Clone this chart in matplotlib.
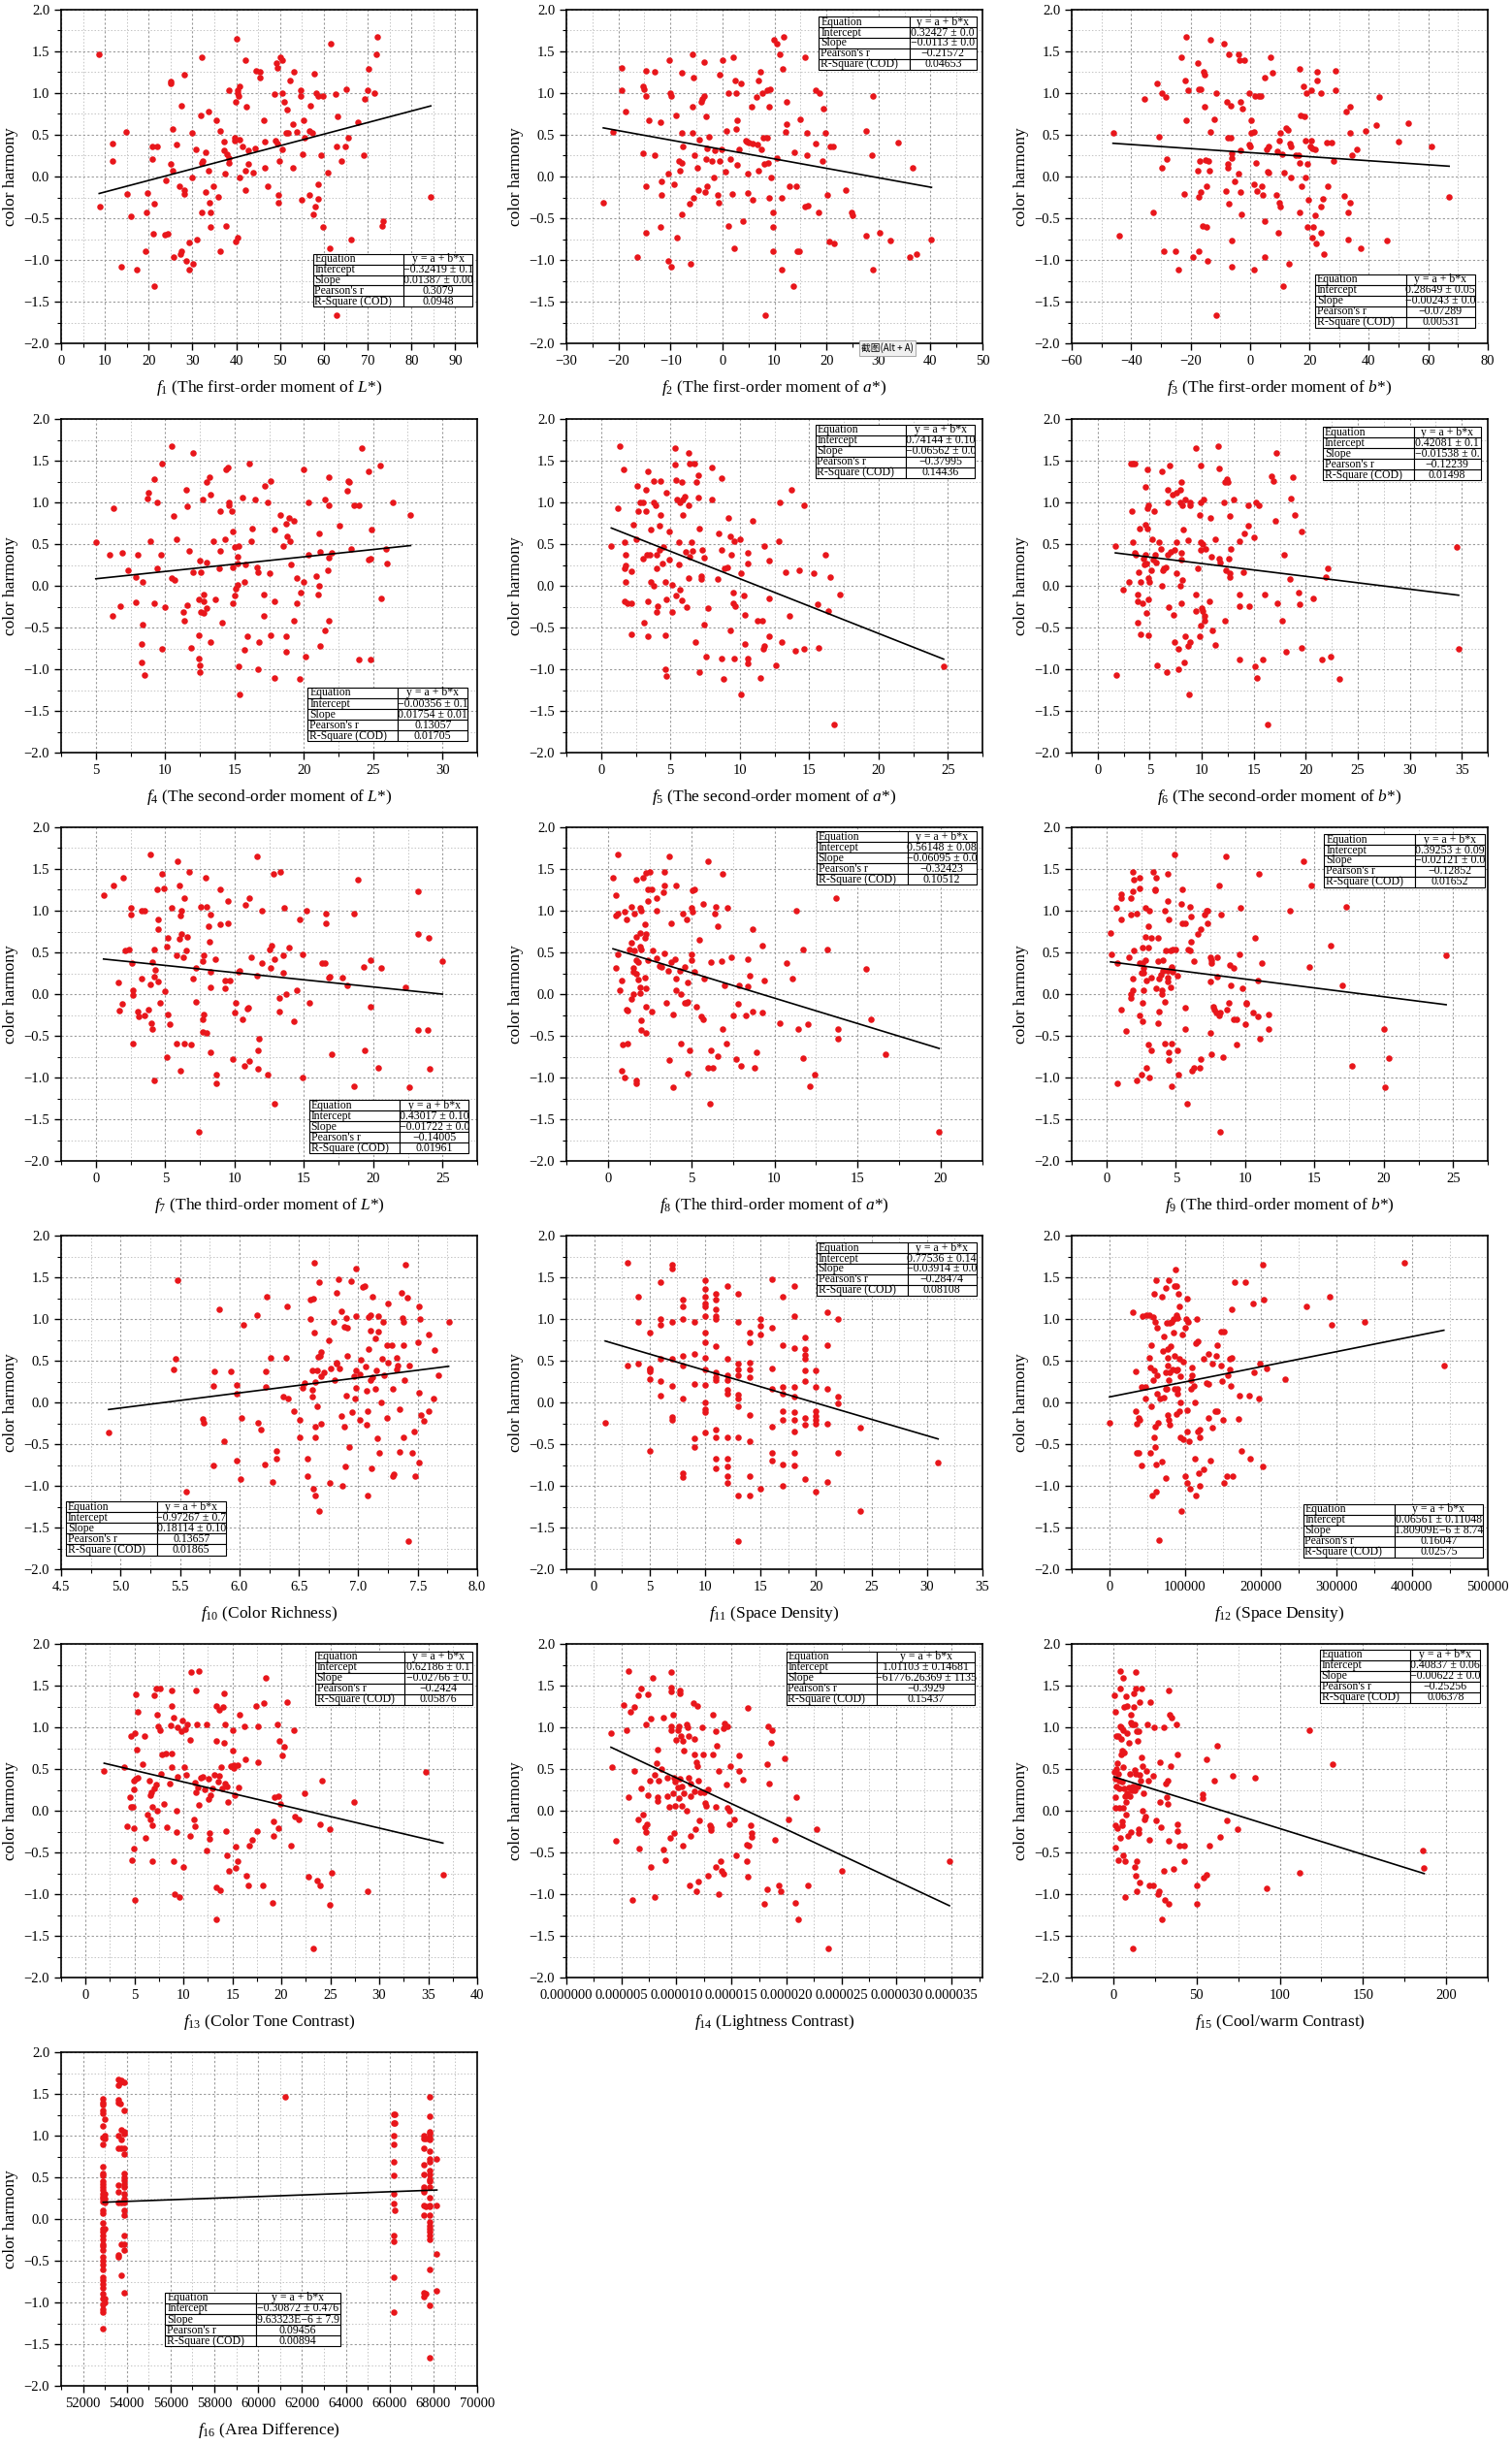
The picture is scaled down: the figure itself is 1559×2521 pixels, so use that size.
import matplotlib
matplotlib.use("Agg")
import matplotlib.pyplot as plt
import matplotlib.ticker as mticker
import numpy as np

plt.rcParams['font.family'] = ['Liberation Serif', 'DejaVu Serif']
plt.rcParams['mathtext.fontset'] = 'custom'
plt.rcParams['mathtext.rm'] = 'Liberation Serif'
plt.rcParams['mathtext.it'] = 'Liberation Serif:italic'

# ---- data: (x, color harmony) pairs for each feature ----
pts1 = np.array([8.7,1.46, 8.9,-0.36, 11.8,0.39, 11.8,0.19, 14.9,0.53, 15.0,-0.21, 16.0,-0.48, 13.7,-1.08, 17.3,-1.12, 19.4,-0.43, 19.7,-0.20, 19.2,-0.89, 20.9,0.36, 22.0,0.36, 20.9,0.21, 21.3,-0.33, 21.0,-0.69, 21.3,-1.31, 23.7,-0.70, 24.3,-0.69, 24.0,-0.05, 25.0,1.14, 25.1,1.12, 25.1,0.15, 25.4,0.57, 25.4,0.07, 25.6,-0.96, 26.3,0.38, 27.4,0.85, 27.1,-0.12, 28.2,1.22, 28.1,-0.16, 28.1,-0.21, 27.4,-0.89, 27.2,-0.93, 28.6,-1.01, 29.2,-0.79, 29.3,-1.12, 29.8,0.52, 29.9,-0.01, 30.1,-1.05, 30.8,0.33, 31.0,-0.75, 31.8,0.73, 32.1,1.43, 32.2,-0.43, 32.1,0.16, 32.4,0.19, 32.9,0.29, 33.1,-0.19, 33.7,0.78, 33.7,0.07, 33.9,-0.31, 34.0,-0.61, 34.2,-0.43, 34.8,-0.12, 35.4,0.68, 35.9,-0.24, 36.4,0.55, 36.4,-0.89, 37.2,0.42, 37.1,0.31, 37.4,0.04, 37.6,-0.59, 37.9,0.27, 38.2,0.16, 38.3,1.04, 38.2,0.22, 39.6,0.46, 39.7,0.43, 39.8,-0.78, 39.9,0.89, 40.0,1.65, 40.2,1.04, 40.4,1.00, 40.5,0.96, 40.4,-0.73, 40.7,1.08, 40.7,0.44, 40.7,-0.01, 41.5,0.36, 42.0,1.39, 42.1,0.07, 42.1,-0.16, 42.4,0.84, 42.7,0.31, 42.7,0.15, 43.9,0.05, 44.3,0.34, 44.4,1.27, 45.3,1.26, 45.3,1.19, 46.2,0.67, 46.4,0.10, 46.6,0.42, 47.2,-0.12, 48.8,0.99, 49.1,1.36, 49.3,1.30, 49.0,0.43, 49.3,0.40, 49.5,-0.22, 49.7,-0.31, 49.9,0.19, 50.1,1.43, 50.4,1.00, 50.6,1.40, 50.6,0.33, 51.0,0.90, 51.4,0.52, 51.5,0.80, 51.8,0.52, 52.2,1.15, 53.0,0.63, 53.1,1.26, 53.0,0.10, 53.8,0.53, 54.6,1.03, 54.8,0.96, 54.9,-0.28, 55.1,0.27, 55.3,0.68, 55.6,0.47, 56.6,0.55, 56.6,-0.22, 57.0,0.85, 57.3,0.52, 57.5,-0.45, 57.8,1.23, 58.1,-0.36, 58.3,1.00, 58.6,0.96, 58.6,-0.09, 58.6,-0.27, 59.4,0.26, 59.8,0.96, 59.8,-0.61, 60.9,0.05, 61.4,-0.86, 61.6,1.59, 62.7,0.99, 62.9,-1.66, 63.0,0.36, 63.2,0.72, 63.9,0.19, 64.8,0.36, 65.1,1.05, 65.5,0.47, 66.2,-0.76, 67.8,0.65, 69.2,0.26, 69.4,0.93, 69.9,1.03, 70.3,1.29, 71.6,1.00, 72.0,1.47, 72.3,1.67, 73.3,-0.59, 73.6,-0.54, 84.4,-0.24]).reshape(-1, 2)

pts2 = np.array([-22.9,-0.31, -21.0,0.53, -19.4,1.30, -19.4,1.04, -18.7,0.78, -16.4,-0.96, -15.2,1.08, -15.0,1.05, -15.2,0.28, -14.8,1.27, -14.8,0.96, -14.8,-0.12, -14.7,-0.68, -14.2,0.67, -13.0,1.26, -13.1,0.26, -11.9,0.65, -11.7,-0.06, -11.7,-0.22, -11.9,-0.61, -10.5,-1.01, -10.4,0.04, -10.2,1.40, -10.1,1.00, -9.8,0.96, -9.9,-1.08, -9.3,-0.09, -8.9,0.73, -8.8,-0.73, -8.4,0.19, -8.1,0.07, -7.9,-0.45, -7.8,0.52, -7.8,0.16, -7.9,1.24, -7.6,0.36, -6.3,-0.33, -6.2,-1.05, -5.8,0.84, -5.8,0.52, -5.8,1.46, -5.6,1.19, -5.5,-0.25, -5.4,0.25, -4.8,0.10, -4.7,-0.16, -4.5,0.44, -4.1,0.89, -3.8,0.93, -3.6,0.96, -3.3,-0.19, -3.5,1.37, -3.1,0.72, -3.1,0.21, -2.9,0.34, -2.9,-0.12, -2.5,0.48, -2.0,0.19, -1.6,-0.01, -1.5,0.31, -0.9,-0.22, -0.7,-0.31, -0.6,1.22, -0.5,0.19, -0.2,0.32, 0.1,1.39, 0.5,0.06, 0.7,0.55, 1.1,-0.59, 1.2,1.00, 1.5,0.21, 1.9,-0.21, 2.0,1.43, 2.3,-0.86, 2.5,1.15, 2.6,1.00, 2.6,0.57, 2.8,0.67, 2.9,0.14, 3.2,0.33, 3.5,1.12, 3.9,-0.54, 4.5,0.43, 4.7,0.42, 4.8,0.04, 4.9,-0.20, 5.1,0.41, 5.6,0.84, 5.8,0.40, 5.8,-0.28, 6.5,0.95, 6.8,0.38, 7.0,1.15, 7.0,0.07, 7.3,1.26, 7.4,0.33, 7.7,1.00, 7.8,0.47, 8.1,0.15, 8.2,-1.66, 8.6,0.47, 8.6,1.03, 8.8,0.16, 8.9,0.84, 8.9,-0.26, 9.2,1.05, 9.4,-0.01, 9.7,-0.43, 9.7,-0.61, 9.8,-0.89, 9.9,1.64, 10.4,0.22, 10.5,1.59, 11.1,1.47, 11.4,-0.25, 11.4,-1.12, 11.5,1.29, 11.7,1.67, 12.2,0.53, 12.4,0.63, 12.4,0.90, 12.8,-0.12, 13.6,-1.31, 13.8,0.29, 14.2,-0.12, 14.3,-0.89, 14.8,-0.89, 14.9,0.69, 15.8,-0.36, 15.8,1.43, 16.2,0.26, 16.3,0.52, 16.5,-0.35, 17.9,0.39, 17.9,1.03, 18.4,-0.43, 18.7,1.00, 19.3,0.19, 19.4,0.81, 19.8,0.52, 20.2,-0.22, 20.6,-0.78, 20.8,0.36, 21.2,0.36, 21.5,-0.80, 23.7,-0.16, 24.8,-0.43, 25.0,-0.47, 27.6,0.55, 27.6,-0.71, 28.7,0.26, 29.0,0.96, 28.9,-1.12, 30.2,-0.68, 32.3,-0.77, 33.7,0.41, 36.1,-0.97, 36.5,0.10, 37.4,-0.93, 40.2,-0.75]).reshape(-1, 2)

pts3 = np.array([-46.1,0.52, -44.0,-0.71, -35.6,0.93, -32.5,-0.43, -31.2,1.12, -30.5,0.48, -29.8,0.10, -29.7,1.00, -28.9,-0.89, -28.4,0.95, -28.0,0.21, -25.1,-0.89, -24.1,-1.12, -23.1,1.43, -22.2,-0.21, -21.7,1.15, -21.5,0.67, -21.4,1.67, -21.0,1.03, -19.3,-0.97, -17.7,0.07, -17.7,1.36, -17.3,-0.24, -17.1,1.05, -17.2,-0.89, -16.9,0.19, -16.7,1.05, -16.6,-0.19, -15.9,-0.59, -15.7,1.26, -15.2,1.22, -15.2,0.84, -14.9,0.20, -14.7,-0.12, -14.5,-0.61, -14.4,-1.01, -14.0,0.19, -13.7,0.07, -13.2,0.53, -13.2,1.64, -11.9,0.69, -11.4,1.00, -11.4,-1.66, -8.8,1.59, -8.2,-0.17, -7.9,0.89, -7.6,0.10, -7.4,0.15, -7.4,0.46, -7.1,1.47, -7.1,-0.33, -6.4,0.85, -6.4,0.47, -6.3,0.28, -6.2,-1.08, -6.0,-0.77, -6.0,0.22, -5.3,-0.06, -3.8,0.04, -3.8,1.47, -3.6,1.39, -3.3,0.90, -3.1,-0.19, -3.1,0.31, -3.0,-0.45, -2.7,0.81, -1.8,1.40, -0.3,1.00, -0.3,0.38, 0.2,0.36, 0.5,0.67, 0.5,0.52, 1.2,0.53, 1.4,-0.09, 1.4,-1.12, 1.8,0.96, 2.0,0.16, 2.2,-0.17, 3.0,0.96, 3.7,0.96, 4.1,-0.12, 4.3,-0.22, 4.8,-0.96, 4.9,-0.54, 5.0,1.19, 5.5,0.33, 6.0,0.06, 6.1,0.36, 6.3,0.05, 6.9,1.43, 7.6,1.24, 8.7,-0.22, 9.1,0.30, 9.5,-0.68, 9.7,0.43, 9.9,-0.31, 10.3,-0.36, 10.3,0.52, 10.9,0.27, 11.0,-1.31, 11.5,0.05, 12.2,0.58, 12.9,0.56, 13.2,-1.05, 13.3,0.39, 13.9,0.36, 13.8,-0.01, 15.3,0.26, 16.6,1.29, 16.5,0.26, 16.7,0.16, 16.6,-0.43, 17.0,0.73, 17.2,-0.12, 18.1,1.08, 18.4,0.72, 18.6,0.43, 18.8,-0.01, 18.9,1.00, 19.2,0.15, 19.7,-0.28, 19.4,-0.60, 20.4,0.36, 20.6,0.43, 20.6,1.03, 20.8,0.34, 20.8,-0.73, 21.3,-0.61, 21.8,0.32, 21.9,-0.47, 22.3,-0.80, 22.7,1.26, 22.7,1.15, 23.8,-0.36, 23.9,-0.68, 24.0,1.00, 24.4,-0.27, 25.0,-0.93, 25.7,0.41, 26.3,-0.12, 27.4,0.41, 28.0,0.19, 28.7,1.27, 28.8,1.03, 31.7,-0.23, 32.3,0.78, 32.9,-0.75, 33.0,-0.43, 33.6,0.52, 33.6,-0.31, 33.6,0.84, 34.4,0.25, 36.0,0.33, 37.1,-0.86, 38.9,0.55, 42.6,0.62, 43.3,0.95, 46.1,-0.77, 50.0,0.42, 53.2,0.64, 61.1,0.36, 67.0,-0.24]).reshape(-1, 2)

pts4 = np.array([5.0,0.52, 6.0,0.37, 6.3,0.93, 6.2,-0.36, 6.9,0.39, 6.8,-0.24, 7.3,0.19, 7.9,0.11, 8.0,0.37, 7.9,-0.20, 8.4,0.05, 8.4,-0.47, 8.3,-0.70, 8.3,-0.92, 8.5,-1.07, 8.7,1.05, 8.8,1.12, 8.9,0.53, 9.2,-0.21, 9.2,1.28, 9.4,1.00, 9.4,0.21, 9.7,0.37, 9.8,1.46, 9.8,-0.76, 10.0,-0.26, 10.5,1.68, 10.5,0.09, 10.6,0.84, 10.7,0.07, 10.8,0.56, 11.3,-0.31, 11.4,-0.42, 11.5,1.15, 11.6,0.95, 11.6,-0.23, 11.7,0.42, 11.9,-0.74, 12.0,1.59, 12.0,0.16, 12.4,-0.16, 12.4,-0.59, 12.4,-0.87, 12.5,-0.95, 12.5,-1.04, 12.5,0.30, 12.6,0.16, 12.6,-0.31, 12.7,1.04, 12.8,-0.11, 12.8,-0.19, 12.8,-0.33, 13.0,1.24, 13.0,0.28, 13.0,-0.27, 13.2,1.30, 13.3,1.09, 13.3,-0.68, 13.5,0.54, 13.6,-0.16, 13.9,0.21, 14.0,0.90, 14.0,0.42, 14.1,-0.44, 14.3,0.56, 14.4,1.39, 14.5,1.42, 14.6,1.00, 14.6,0.97, 14.8,0.90, 14.9,0.65, 14.9,0.22, 15.0,0.46, 15.0,-0.12, 14.9,-0.21, 15.1,-0.04, 15.2,0.01, 15.2,0.35, 15.2,0.27, 15.3,0.48, 15.3,-0.97, 15.4,-1.30, 15.6,1.06, 15.7,0.05, 15.7,-0.77, 15.9,-0.60, 15.8,0.26, 16.1,1.47, 16.2,0.53, 16.3,0.69, 16.5,1.04, 16.6,0.22, 16.7,0.16, 16.7,-1.00, 16.8,-0.68, 17.1,-0.11, 17.1,-0.36, 17.2,1.20, 17.4,1.00, 17.5,0.15, 17.6,1.26, 17.6,-0.59, 17.9,0.68, 17.9,-0.19, 17.9,-1.11, 18.3,0.85, 18.5,0.48, 18.7,-0.60, 18.7,0.74, 18.7,-0.79, 18.8,0.59, 18.9,0.81, 19.0,0.53, 19.1,0.26, 19.3,0.78, 19.3,-0.42, 19.5,-0.21, 19.5,0.09, 19.8,-0.08, 19.7,-1.12, 20.0,1.40, 20.0,0.05, 20.1,-0.85, 20.3,0.37, 20.3,1.00, 20.9,0.12, 21.0,-0.11, 21.1,0.00, 21.1,0.63, 21.2,0.41, 21.2,-0.72, 21.5,1.04, 21.5,-0.54, 21.7,0.19, 21.8,0.96, 21.8,1.30, 21.8,0.34, 21.8,-0.42, 22.0,0.39, 22.6,0.72, 23.1,1.14, 23.2,1.26, 23.3,1.24, 23.4,0.44, 23.6,0.97, 24.0,0.97, 24.0,-0.88, 24.2,1.65, 24.7,1.37, 24.7,0.31, 24.8,0.33, 24.9,0.68, 24.8,-0.88, 25.5,1.44, 25.6,-0.15, 25.9,0.44, 26.0,0.27, 26.4,1.00, 27.7,0.85]).reshape(-1, 2)

pts5 = np.array([0.74,0.48, 1.2,0.93, 1.35,1.68, 1.6,1.39, 1.7,-0.19, 1.7,0.52, 1.7,0.21, 1.8,0.37, 1.8,0.25, 1.8,0.05, 1.9,-0.21, 2.2,0.17, 2.2,-0.21, 2.2,-0.58, 2.3,0.73, 2.5,0.56, 2.6,1.20, 2.7,0.89, 2.8,1.00, 3.0,1.00, 3.0,0.33, 3.1,-0.44, 3.2,1.15, 3.2,0.90, 3.3,0.37, 3.4,1.37, 3.4,-0.60, 3.4,-0.19, 3.5,0.37, 3.6,0.05, 3.6,0.68, 3.8,1.00, 3.8,1.26, 3.8,0.00, 3.9,0.97, 4.0,0.37, 4.0,-0.31, 4.0,0.21, 4.1,-0.24, 4.2,0.72, 4.2,0.43, 4.3,0.85, 4.3,1.26, 4.4,0.27, 4.5,0.47, 4.6,0.05, 4.6,-0.59, 4.6,-1.00, 4.7,-1.08, 4.7,1.12, 4.7,-0.16, 4.9,0.31, 4.9,0.65, 5.1,0.01, 5.1,-0.31, 5.3,1.65, 5.3,1.45, 5.4,1.27, 5.4,-0.12, 5.5,1.04, 5.6,0.26, 5.6,0.52, 5.7,-0.05, 5.7,1.00, 5.8,1.24, 5.8,-0.18, 5.9,0.85, 5.9,1.04, 6.0,1.07, 6.1,0.41, 6.2,-0.26, 6.3,0.09, 6.3,1.59, 6.4,1.46, 6.3,0.96, 6.4,0.35, 6.5,0.52, 6.6,0.42, 6.7,1.47, 6.8,-0.68, 6.9,1.25, 7.0,1.06, 7.0,1.32, 7.1,0.69, 7.2,0.12, 7.1,-1.03, 7.2,0.08, 7.3,0.43, 7.4,0.34, 7.4,-0.47, 7.6,-0.85, 7.7,-0.27, 8.0,1.42, 8.0,1.04, 8.4,0.08, 8.5,0.63, 8.7,0.43, 8.7,1.29, 8.7,-0.87, 8.8,-1.12, 8.9,0.21, 9.1,0.22, 9.2,0.81, 9.3,0.59, 9.3,-0.53, 9.4,0.37, 9.5,-0.08, 9.5,-0.21, 9.6,0.54, 9.7,-0.24, 9.6,-0.87, 10.0,0.56, 10.1,0.15, 10.1,-1.30, 10.3,-0.12, 10.4,-0.35, 10.4,-0.70, 10.6,0.27, 10.6,0.39, 10.6,-0.87, 10.6,-0.93, 10.9,0.78, 11.3,-0.42, 11.6,-0.42, 11.5,-1.10, 11.7,-0.75, 11.8,-0.72, 11.8,0.48, 12.1,-0.15, 12.1,0.30, 12.1,-0.60, 12.6,-0.95, 12.8,0.54, 12.9,1.00, 13.0,-0.68, 13.3,0.16, 13.6,-0.36, 13.7,1.15, 14.0,-0.78, 14.3,0.19, 14.6,-0.76, 14.6,0.97, 15.3,0.15, 15.6,-0.22, 15.7,-0.74, 16.2,0.37, 16.5,0.11, 16.4,-0.30, 16.8,-1.66, 17.2,-0.11, 24.7,-0.97]).reshape(-1, 2)

pts6 = np.array([1.7,0.48, 1.8,-1.07, 2.4,-0.05, 3.0,0.05, 3.2,1.46, 3.4,1.47, 3.6,1.47, 3.3,0.90, 3.4,0.52, 3.6,0.39, 3.7,0.37, 3.8,-0.11, 3.8,-0.19, 3.8,-0.44, 3.9,0.16, 4.0,0.69, 4.1,-0.58, 4.1,0.05, 4.3,-0.21, 4.4,0.33, 4.5,0.26, 4.6,1.19, 4.6,0.37, 4.6,0.73, 4.7,0.27, 4.7,-0.32, 4.8,0.69, 4.8,1.40, 4.8,0.93, 4.9,0.96, 4.9,0.09, 4.9,-0.16, 4.9,-0.59, 5.0,0.05, 5.1,0.19, 5.2,0.56, 5.3,0.31, 5.4,0.90, 5.5,0.37, 5.6,0.28, 5.7,-0.95, 5.9,0.52, 6.1,0.44, 6.2,1.37, 6.2,0.00, 6.3,0.19, 6.4,0.21, 6.5,0.22, 6.7,1.15, 6.7,1.00, 6.7,0.37, 6.6,-1.04, 6.8,-0.26, 6.9,1.44, 7.0,0.41, 7.2,1.09, 7.3,-0.35, 7.4,-0.68, 7.4,0.43, 7.6,0.52, 7.6,0.15, 7.6,1.12, 7.8,-0.76, 7.8,-1.00, 7.9,0.00, 7.9,1.15, 7.9,1.00, 8.0,1.25, 8.0,0.40, 8.0,-0.21, 8.0,0.31, 8.1,0.97, 8.1,0.07, 8.2,0.68, 8.3,-0.92, 8.4,1.04, 8.4,-0.60, 8.7,-0.72, 8.7,0.55, 8.8,-1.30, 8.9,1.00, 8.9,0.96, 8.9,-0.68, 9.4,-0.11, 9.4,1.65, 9.4,-0.30, 9.6,0.21, 9.8,0.85, 9.8,-0.60, 9.9,0.52, 9.9,1.00, 9.9,1.44, 9.9,0.43, 9.9,-0.48, 10.0,-0.27, 10.1,0.50, 10.1,-0.30, 10.2,1.04, 10.3,-0.36, 10.3,-0.42, 10.4,0.44, 10.7,-0.19, 10.8,0.81, 10.9,0.35, 11.0,-0.53, 11.3,0.56, 11.3,-0.71, 11.6,1.68, 11.7,1.41, 11.7,0.32, 11.8,0.28, 12.1,1.00, 12.2,-0.42, 12.2,1.24, 12.3,0.19, 12.4,1.28, 12.5,1.25, 12.7,0.84, 12.6,0.33, 12.7,0.15, 12.7,0.11, 12.8,0.44, 13.1,1.04, 13.6,-0.11, 13.6,-0.24, 13.6,-0.88, 13.6,0.53, 14.0,0.16, 14.1,0.63, 14.5,0.72, 14.5,0.96, 14.6,-0.24, 15.0,0.58, 15.1,-0.96, 15.2,1.00, 15.3,-1.11, 15.5,0.96, 15.9,-0.88, 16.1,-0.11, 16.3,-1.66, 16.7,1.31, 16.9,1.26, 17.1,0.78, 17.2,1.59, 17.3,-0.21, 17.7,-0.42, 17.9,0.37, 18.1,-0.79, 18.5,0.08, 18.6,1.05, 18.8,1.30, 18.9,0.85, 19.3,-0.08, 19.4,-0.22, 19.6,0.65, 19.6,-0.74, 20.7,-0.15, 21.6,-0.88, 21.9,0.11, 22.1,0.21, 22.4,-0.85, 23.2,-1.12, 34.5,0.47, 34.7,-0.76]).reshape(-1, 2)

pts7 = np.array([0.56,1.19, 1.3,1.30, 1.6,0.14, 1.7,-0.20, 2.0,1.40, 1.9,-0.12, 2.1,0.52, 2.4,0.53, 2.5,1.04, 2.5,0.95, 2.6,0.37, 2.7,0.05, 2.7,-0.01, 2.7,-0.59, 3.0,-0.21, 3.1,-0.27, 3.3,0.19, 3.3,1.00, 3.5,1.00, 3.5,-0.26, 3.8,-0.19, 3.9,1.68, 3.9,0.12, 4.0,-0.35, 4.1,-0.42, 4.1,0.38, 4.2,0.53, 4.2,0.21, 4.2,-1.03, 4.3,0.29, 4.4,1.25, 4.5,0.89, 4.5,0.78, 4.5,0.15, 4.6,-0.11, 4.8,1.44, 4.9,1.27, 5.0,0.04, 5.1,0.57, 5.2,0.68, 5.1,-0.75, 5.2,-0.24, 5.3,-0.36, 5.5,1.04, 5.8,0.47, 5.8,-0.59, 5.9,1.59, 6.0,1.30, 6.0,0.66, 6.1,0.94, 6.2,1.00, 6.1,-0.92, 6.2,0.72, 6.3,0.44, 6.4,1.15, 6.4,-0.59, 6.5,0.52, 6.6,0.69, 6.7,1.47, 6.9,-0.60, 7.0,0.19, 7.2,0.31, 7.2,-0.09, 7.4,-1.65, 7.6,1.05, 7.7,0.39, 7.8,0.47, 7.8,-0.24, 7.7,-0.30, 7.7,-0.45, 7.9,1.39, 8.0,1.05, 8.0,-0.47, 8.1,0.81, 8.2,0.63, 8.3,0.95, 8.3,0.27, 8.3,0.08, 8.3,-0.70, 8.6,0.42, 8.7,-0.96, 8.7,-1.07, 9.0,1.26, 9.0,0.84, 9.3,0.07, 9.3,0.16, 9.5,0.85, 9.5,1.12, 9.7,0.16, 9.9,-0.78, 10.0,-0.22, 10.1,-0.11, 10.3,0.27, 10.4,0.28, 10.6,-0.30, 10.7,-0.86, 10.8,1.07, 10.9,-0.18, 11.0,-0.16, 11.1,-0.80, 11.1,1.15, 11.2,0.44, 11.6,1.65, 11.6,0.22, 11.7,-0.89, 11.7,-0.68, 11.8,-0.53, 12.0,1.00, 12.0,0.37, 12.4,-0.96, 12.5,0.54, 12.6,0.31, 12.7,0.58, 12.8,1.44, 12.9,0.42, 12.9,-1.31, 13.2,-0.05, 13.2,-0.21, 13.3,1.47, 13.5,0.46, 13.5,0.26, 13.6,1.04, 13.7,0.00, 13.9,0.56, 14.3,-0.32, 14.5,0.05, 14.7,0.90, 14.9,0.48, 14.9,-1.00, 15.2,1.00, 15.4,-0.11, 16.3,0.37, 16.5,0.37, 16.6,0.96, 16.6,0.85, 16.8,0.20, 16.9,0.21, 17.0,-0.72, 17.8,0.20, 18.1,0.11, 18.6,0.96, 18.6,-1.11, 18.9,1.37, 19.4,-0.68, 19.3,0.33, 19.8,0.41, 19.8,-0.15, 20.4,-0.88, 20.6,0.31, 22.3,0.08, 22.6,-1.12, 23.2,1.23, 23.2,0.72, 23.2,-0.43, 23.9,-0.43, 24.0,0.68, 24.1,-0.89, 25.0,0.39]).reshape(-1, 2)

pts8 = np.array([0.3,1.39, 0.5,1.19, 0.6,1.68, 0.5,0.94, 0.6,0.97, 0.5,0.31, 0.6,0.48, 0.7,0.05, 0.8,0.16, 0.8,-0.92, 0.9,-0.60, 1.0,-1.00, 1.0,0.99, 1.1,0.89, 1.1,-0.19, 1.2,-0.20, 1.2,-0.59, 1.3,0.53, 1.4,1.05, 1.4,-0.06, 1.4,0.62, 1.5,0.31, 1.5,0.00, 1.5,0.27, 1.6,0.97, 1.6,0.52, 1.7,1.37, 1.7,-1.07, 1.7,-1.03, 1.7,0.24, 1.7,0.69, 1.7,0.41, 1.8,0.38, 1.8,0.18, 1.9,1.04, 1.9,0.01, 1.9,0.73, 1.9,0.57, 1.9,0.08, 2.0,1.00, 2.0,-0.31, 2.0,-0.43, 2.0,0.54, 2.1,1.40, 2.2,0.84, 2.2,0.68, 2.2,0.20, 2.3,0.72, 2.3,1.45, 2.3,-0.15, 2.3,-0.47, 2.3,0.07, 2.4,1.26, 2.4,1.12, 2.4,0.41, 2.5,1.47, 2.6,-0.21, 2.6,1.26, 2.7,0.52, 2.9,0.43, 2.9,1.00, 2.9,1.15, 3.1,0.34, 3.2,0.33, 3.3,1.22, 3.4,0.49, 3.4,1.30, 3.4,1.47, 3.5,-0.11, 3.6,0.28, 3.7,1.65, 3.7,-0.79, 3.8,0.85, 3.8,0.38, 3.9,-0.24, 3.9,-1.12, 4.0,0.42, 4.1,0.05, 4.1,1.30, 4.1,0.19, 4.3,0.28, 4.4,0.00, 4.4,-0.59, 4.5,0.97, 4.6,0.33, 4.6,-0.11, 4.7,-0.11, 4.7,0.90, 4.8,-0.09, 4.8,0.14, 4.8,-0.95, 4.9,-0.68, 5.0,0.48, 5.0,0.41, 5.0,1.04, 5.1,1.24, 5.1,0.99, 5.2,0.27, 5.2,1.26, 5.3,-0.15, 5.5,0.65, 5.6,-0.27, 5.7,-0.30, 5.7,1.08, 5.8,0.19, 6.0,1.59, 6.0,-0.88, 6.1,-1.31, 6.2,-0.68, 6.2,0.38, 6.3,-0.88, 6.4,0.96, 6.5,1.05, 6.6,-0.74, 6.6,0.81, 6.8,0.40, 6.9,1.44, 6.9,-0.42, 7.0,0.11, 7.1,-0.59, 7.2,1.04, 7.4,0.44, 7.5,-0.26, 7.7,-0.78, 7.8,-0.12, 7.9,0.11, 8.0,-0.86, 8.3,-0.25, 8.4,0.42, 8.4,0.09, 8.5,0.22, 8.7,0.78, 8.7,-0.21, 8.8,-0.88, 8.9,-0.70, 9.3,0.58, 9.3,-0.22, 9.4,0.16, 10.3,-0.35, 10.7,0.37, 11.1,0.19, 11.3,1.00, 11.4,-0.42, 11.7,0.53, 11.7,-0.77, 12.0,-0.36, 12.1,-1.11, 12.4,-0.96, 13.2,0.54, 13.7,1.15, 13.8,-0.42, 13.8,-0.53, 15.5,0.30, 15.8,-0.30, 16.7,-0.72, 19.9,-1.65]).reshape(-1, 2)

pts9 = np.array([0.3,0.73, 0.4,0.48, 0.7,1.04, 0.8,0.37, 0.8,-1.07, 1.05,1.20, 1.1,1.15, 1.05,0.90, 1.05,-0.19, 1.4,-0.44, 1.6,0.44, 1.8,-0.05, 1.8,0.00, 1.8,1.15, 1.9,1.23, 1.8,0.95, 1.9,0.05, 1.9,0.19, 1.9,1.47, 2.0,0.52, 2.0,1.37, 2.2,0.96, 2.2,-1.04, 2.4,1.39, 2.4,-0.26, 2.4,1.27, 2.4,0.37, 2.5,0.26, 2.5,-0.96, 2.6,-0.11, 2.6,-0.32, 2.6,0.56, 2.6,0.37, 2.7,0.05, 2.7,0.26, 2.7,0.31, 2.8,1.04, 2.8,0.69, 2.8,0.41, 2.9,0.16, 2.9,-0.88, 3.0,0.81, 3.0,-0.60, 3.0,0.56, 3.1,-1.00, 3.1,1.00, 3.2,0.68, 3.2,-0.68, 3.2,0.20, 3.4,1.47, 3.5,1.26, 3.5,1.24, 3.6,0.07, 3.6,1.40, 3.7,0.68, 3.7,0.39, 3.7,-0.35, 3.8,-0.21, 3.8,0.19, 3.9,0.23, 4.0,0.05, 4.0,0.00, 4.1,0.41, 4.1,0.28, 4.2,-0.09, 4.2,-0.59, 4.2,1.00, 4.3,0.52, 4.4,0.20, 4.4,1.44, 4.4,1.12, 4.4,0.28, 4.5,0.89, 4.4,0.15, 4.5,-0.70, 4.5,-0.79, 4.6,0.52, 4.6,0.08, 4.7,0.31, 4.7,-0.59, 4.7,-1.11, 4.7,0.33, 4.8,0.53, 4.8,0.27, 4.9,1.68, 5.0,0.53, 5.1,0.22, 5.1,-0.68, 5.2,-0.96, 5.4,1.08, 5.5,1.26, 5.5,0.85, 5.7,0.85, 5.7,-0.16, 5.7,-0.42, 5.8,-1.31, 5.9,0.54, 6.0,0.52, 6.0,1.05, 6.1,0.63, 6.1,0.93, 6.2,-0.92, 6.3,0.39, 6.3,-0.88, 6.6,0.72, 6.7,-0.88, 6.8,-0.78, 6.8,0.78, 7.1,0.95, 7.2,1.00, 7.3,0.85, 7.3,1.00, 7.5,0.44, 7.5,-0.47, 7.5,0.15, 7.6,0.41, 7.6,0.37, 7.6,-0.72, 7.7,-0.15, 7.8,-0.19, 7.9,-0.22, 8.0,0.21, 8.0,0.44, 8.1,-0.26, 8.1,1.30, 8.2,-1.65, 8.2,-0.22, 8.3,0.95, 8.4,-0.75, 8.6,1.65, 8.7,-0.19, 8.8,-0.11, 8.9,0.35, 9.0,0.11, 9.2,0.31, 9.2,-0.30, 9.4,-0.30, 9.4,-0.60, 9.6,0.48, 9.7,1.04, 9.8,0.07, 10.1,-0.11, 10.0,-0.36, 10.1,-0.12, 10.6,-0.22, 10.7,0.68, 10.9,0.16, 10.9,-0.27, 11.0,1.44, 11.1,-0.53, 11.2,0.37, 11.7,-0.24, 11.7,-0.42, 13.2,1.00, 14.2,1.59, 14.6,0.32, 14.8,1.30, 16.2,0.58, 17.0,0.11, 17.3,1.05, 17.7,-0.86, 20.0,-0.42, 20.1,-1.12, 20.4,-0.77, 24.5,0.47]).reshape(-1, 2)

pts10 = np.array([4.90,-0.36, 5.45,0.39, 5.46,0.52, 5.48,1.46, 5.55,-1.07, 5.69,-0.20, 5.70,-0.24, 5.78,0.20, 5.79,0.37, 5.78,-0.76, 5.83,1.12, 5.87,-0.47, 5.93,0.37, 5.98,-0.70, 5.98,0.11, 5.98,0.21, 6.01,-0.92, 6.02,-0.19, 6.03,0.93, 6.15,1.05, 6.16,-0.24, 6.18,-0.32, 6.21,-0.74, 6.22,0.37, 6.22,0.19, 6.23,1.27, 6.26,0.53, 6.28,-0.95, 6.31,-0.58, 6.31,-0.68, 6.37,0.07, 6.39,0.54, 6.40,1.15, 6.41,0.05, 6.46,-0.11, 6.51,-0.21, 6.51,-0.42, 6.53,0.18, 6.55,0.23, 6.57,-0.68, 6.57,-0.88, 6.60,1.00, 6.60,1.23, 6.61,0.38, 6.62,1.24, 6.61,0.15, 6.61,0.07, 6.63,1.68, 6.63,0.84, 6.62,-1.04, 6.64,0.24, 6.64,-0.29, 6.64,-0.42, 6.64,-1.12, 6.65,0.38, 6.65,-0.05, 6.66,0.55, 6.67,1.44, 6.67,-1.30, 6.68,0.56, 6.69,0.60, 6.69,-0.26, 6.69,0.31, 6.71,0.36, 6.75,0.74, 6.76,-0.96, 6.77,0.41, 6.79,0.96, 6.80,0.27, 6.82,1.31, 6.82,0.47, 6.82,0.48, 6.83,1.48, 6.84,0.41, 6.86,1.09, 6.86,-0.16, 6.87,-1.00, 6.88,0.91, 6.88,-0.29, 6.89,-0.77, 6.90,0.08, 6.90,1.01, 6.91,0.56, 6.91,0.90, 6.92,-0.53, 6.94,1.45, 6.95,-0.12, 6.96,0.31, 6.98,1.60, 6.98,1.04, 6.97,0.05, 6.98,0.38, 6.98,0.18, 7.01,0.34, 7.01,-0.21, 7.02,0.51, 7.04,1.38, 7.05,1.40, 7.06,0.43, 7.07,0.14, 7.07,-0.27, 7.08,-0.11, 7.08,-1.12, 7.09,0.64, 7.09,1.02, 7.10,1.05, 7.10,0.27, 7.10,0.86, 7.11,-0.79, 7.12,1.27, 7.12,0.30, 7.14,0.77, 7.14,0.16, 7.15,0.38, 7.16,-0.43, 7.17,0.85, 7.17,1.04, 7.18,-0.60, 7.19,0.00, 7.20,0.52, 7.21,0.96, 7.22,0.33, 7.24,-0.19, 7.24,0.69, 7.25,1.19, 7.25,0.48, 7.28,0.69, 7.29,-0.88, 7.29,0.16, 7.30,-0.86, 7.32,0.40, 7.32,0.53, 7.33,0.44, 7.35,-0.08, 7.35,-0.59, 7.36,1.31, 7.37,1.01, 7.38,-0.42, 7.38,0.97, 7.38,0.69, 7.39,0.27, 7.40,1.65, 7.41,1.26, 7.42,-1.66, 7.43,0.44, 7.45,-0.60, 7.47,-0.35, 7.48,-0.88, 7.50,0.72, 7.51,1.15, 7.51,0.12, 7.51,-0.72, 7.52,1.00, 7.53,-0.15, 7.55,-0.22, 7.59,0.81, 7.59,-0.11, 7.63,0.05, 7.64,0.63, 7.67,0.33, 7.76,0.96]).reshape(-1, 2)

pts11 = np.array([1,-0.24, 3,1.68, 3,0.44, 4,1.27, 4,0.96, 4,0.47, 5,0.84, 5,0.41, 5,0.39, 5,0.37, 5,0.28, 5,-0.58, 6,1.44, 6,1.00, 6,0.93, 6,0.52, 6,0.26, 6,0.08, 7,1.65, 7,1.60, 7,0.96, 7,0.52, 7,0.20, 7,-0.18, 7,-0.21, 8,1.23, 8,1.15, 8,1.00, 8,0.56, 8,0.44, 8,0.05, 8,-0.85, 8,-0.89, 9,0.96, 9,0.58, 9,0.22, 9,-0.43, 9,-0.53, 10,1.46, 10,1.36, 10,1.27, 10,1.19, 10,1.15, 10,1.04, 10,0.84, 10,0.72, 10,0.53, 10,0.40, 10,0.21, 10,0.00, 10,-0.08, 10,-0.12, 10,-0.36, 11,1.30, 11,1.23, 11,1.12, 11,1.04, 11,1.00, 11,0.68, 11,0.36, 11,0.30, 11,0.27, 11,-0.32, 11,-0.42, 11,-0.68, 11,-0.79, 12,1.39, 12,0.52, 12,0.33, 12,0.27, 12,0.15, 12,0.11, 12,-0.42, 12,-0.68, 12,-0.77, 12,-0.88, 12,-0.96, 13,1.30, 13,0.96, 13,0.46, 13,0.39, 13,0.33, 13,0.09, 13,0.05, 13,-0.05, 13,-0.42, 13,-1.12, 13,-1.66, 14,0.84, 14,0.72, 14,0.48, 14,0.39, 14,0.30, 14,-0.15, 14,-0.47, 14,-0.88, 14,-1.12, 15,1.00, 15,0.92, 15,0.81, 15,-1.04, 16,1.48, 16,0.90, 16,0.41, 16,0.16, 16,-0.29, 16,-0.60, 16,-0.70, 17,1.27, 17,0.69, 17,0.19, 17,0.11, 17,-0.11, 17,-0.21, 17,-0.74, 17,-1.00, 18,1.40, 18,1.03, 18,0.65, 18,0.19, 18,0.07, 18,-0.12, 18,-0.21, 18,-0.35, 18,-0.60, 18,-0.76, 19,0.78, 19,0.64, 19,0.57, 19,0.52, 19,0.38, 19,0.26, 19,-0.19, 19,-0.27, 19,-0.92, 20,0.38, 20,0.19, 20,-0.11, 20,-0.16, 20,-0.21, 20,-0.25, 20,-1.07, 21,1.08, 21,0.69, 21,0.16, 21,-0.26, 21,-0.95, 22,1.00, 22,0.07, 22,-0.01, 22,-0.60, 24,-0.30, 24,-1.30, 31,-0.72]).reshape(-1, 2)

pts12 = np.array([0,-0.24, 30500,1.08, 34400,0.37, 34400,-0.11, 35700,-0.26, 36100,-0.60, 38200,-0.60, 38200,-0.19, 39500,-0.21, 42100,-0.76, 42500,0.19, 43800,1.04, 47700,0.19, 46800,0.05, 48500,1.05, 52000,1.05, 52400,0.53, 53300,0.42, 53800,-0.60, 54600,0.69, 55400,-0.05, 55800,-1.12, 57600,0.27, 58000,1.02, 58800,1.30, 58800,-0.42, 59300,0.38, 59700,0.96, 60100,-0.29, 60100,-0.53, 61000,-1.07, 61400,1.47, 61400,-0.74, 62300,0.33, 62300,0.89, 62300,0.11, 63600,-0.24, 65700,-1.65, 66200,0.05, 68700,1.27, 69200,-0.71, 70400,0.62, 71300,0.06, 71700,0.79, 74000,-0.91, 74000,1.37, 74300,0.16, 74800,0.36, 75600,0.95, 76000,0.16, 76500,0.44, 76900,0.64, 77300,-0.15, 77300,0.53, 77700,0.27, 78200,1.46, 78600,-0.21, 79000,0.95, 79500,-0.27, 79900,0.36, 80300,0.67, 82000,0.97, 83800,0.40, 84600,1.00, 85100,0.84, 85900,1.40, 86300,0.56, 86300,0.16, 87600,1.59, 88100,1.05, 88500,1.40, 88100,0.38, 88500,-0.14, 89300,0.16, 89300,1.01, 90200,0.39, 90200,0.10, 91100,1.30, 91900,-0.11, 92400,0.52, 92800,1.15, 93200,0.31, 93600,0.00, 94100,-0.42, 94900,-1.30, 96200,0.81, 97100,0.49, 97900,-0.44, 100100,-0.88, 100100,0.90, 101000,1.00, 102200,-0.35, 102200,1.24, 103100,-0.09, 103100,-0.97, 103500,0.96, 105700,-0.47, 106500,-1.04, 107400,0.16, 108200,0.27, 108700,0.42, 109100,0.33, 111300,0.20, 112500,0.00, 113400,-0.68, 113800,-1.12, 114300,0.71, 115100,1.00, 116800,0.73, 116800,-0.35, 118100,-0.85, 119000,-0.42, 119000,-0.33, 119800,-1.00, 124100,0.52, 124600,-0.80, 128400,0.23, 130600,-0.19, 131000,0.58, 131400,0.22, 132700,-0.70, 135700,-0.30, 136200,0.47, 139600,-0.11, 141800,-0.11, 142600,0.69, 141300,0.56, 147300,0.44, 147300,0.85, 148200,0.26, 151600,0.85, 150300,-0.21, 151600,-0.97, 154600,-0.88, 155900,0.33, 158500,0.39, 158900,0.52, 160200,0.20, 161500,1.12, 161500,0.53, 162400,-0.88, 164900,1.44, 170100,-0.20, 171400,0.08, 174800,-0.58, 179100,1.44, 184700,0.08, 185600,-0.68, 189900,1.19, 190700,0.36, 198000,0.05, 198900,0.47, 202300,1.65, 203600,1.23, 203200,-0.77, 207500,0.41, 232400,0.28, 260300,1.15, 291200,1.27, 294200,0.93, 336800,0.96, 389200,1.68, 442000,0.44]).reshape(-1, 2)

pts13 = np.array([1.9,0.48, 3.9,0.52, 4.2,-0.19, 4.5,0.16, 4.6,0.05, 4.6,0.90, 4.7,-0.59, 4.8,0.05, 4.9,0.36, 4.9,0.26, 4.9,-0.21, 4.9,-0.45, 5.0,0.93, 5.0,-1.07, 5.1,1.39, 5.1,0.38, 5.2,0.73, 5.3,1.19, 5.3,0.39, 5.8,0.56, 6.0,0.89, 6.1,-0.32, 6.3,-0.05, 6.5,0.36, 6.6,0.19, 6.6,-0.11, 6.7,0.22, 6.8,0.05, 6.8,-0.60, 6.8,-0.17, 7.0,1.38, 7.0,0.27, 7.2,0.31, 7.2,1.46, 7.3,0.00, 7.3,1.15, 7.4,1.01, 7.6,1.47, 7.6,0.97, 7.7,0.44, 7.8,0.68, 8.0,0.08, 8.2,0.69, 8.3,-0.20, 8.6,0.33, 8.7,1.02, 8.8,0.52, 8.8,1.44, 8.8,1.26, 8.8,0.69, 9.0,-0.60, 9.0,1.12, 9.1,-1.00, 9.3,0.00, 9.3,-0.26, 9.4,0.41, 9.4,1.00, 9.6,-1.04, 9.8,0.95, 9.9,1.08, 10.0,-0.68, 10.1,0.52, 10.2,0.98, 10.3,0.43, 10.4,1.04, 10.7,-0.30, 10.7,0.85, 10.8,1.66, 11.1,-0.11, 11.2,0.34, 11.2,-0.19, 11.3,1.44, 11.3,0.22, 11.4,1.04, 11.6,1.68, 11.5,0.28, 11.6,0.07, 11.8,0.39, 12.0,0.41, 12.2,0.26, 12.4,1.04, 12.4,-0.48, 12.6,0.38, 12.6,0.14, 12.7,-0.27, 12.7,-0.34, 12.8,0.19, 13.0,0.27, 13.2,0.43, 13.4,0.84, 13.4,1.26, 13.4,-0.92, 13.5,0.35, 13.6,0.42, 13.6,1.21, 13.4,-1.30, 13.7,-0.95, 13.8,0.52, 13.9,0.27, 14.0,1.24, 14.1,1.41, 14.1,0.81, 14.2,1.03, 14.2,0.33, 14.3,-0.24, 14.4,0.29, 14.4,-0.53, 14.5,0.10, 14.6,-0.72, 14.8,0.53, 15.0,0.96, 15.0,0.72, 15.1,0.55, 15.1,0.51, 15.2,0.19, 15.3,-0.43, 15.3,-0.69, 15.5,0.55, 15.5,-0.61, 15.6,0.28, 15.7,1.15, 16.2,1.01, 16.3,0.62, 16.4,-0.78, 16.6,-0.89, 16.7,-0.42, 17.0,-0.35, 17.4,1.26, 17.6,1.01, 17.5,-0.24, 17.6,0.58, 18.2,1.29, 18.4,1.59, 18.1,-0.89, 19.1,-1.11, 19.2,-0.30, 19.2,-0.13, 19.3,0.16, 19.6,1.04, 19.7,0.17, 19.7,-0.21, 19.8,0.84, 19.9,0.08, 20.1,0.66, 20.3,0.77, 20.6,1.30, 21.0,-0.42, 21.3,0.96, 21.4,-0.07, 21.8,-0.11, 22.4,0.21, 22.8,-0.79, 23.3,-1.65, 23.7,-0.84, 24.0,-0.89, 24.0,-0.16, 24.1,0.36, 24.9,-0.22, 24.9,-1.13, 25.1,-0.74, 27.4,0.10, 28.8,-0.96, 34.7,0.47, 36.5,-0.77]).reshape(-1, 2)

pts14 = np.array([4.05e-6,0.93, 4.1e-6,0.52, 4.5e-6,-0.36, 5.2e-6,1.27, 5.6e-6,0.16, 5.5e-6,0.96, 5.6e-6,1.68, 5.8e-6,1.19, 6.0e-6,-1.07, 6.2e-6,1.24, 6.2e-6,0.48, 6.5e-6,-0.11, 6.5e-6,1.38, 6.6e-6,-0.45, 6.8e-6,1.47, 6.8e-6,0.27, 7.0e-6,-0.05, 7.1e-6,-0.20, 7.2e-6,1.04, 7.2e-6,-0.25, 7.3e-6,-0.16, 7.4e-6,0.19, 7.4e-6,1.39, 7.6e-6,0.36, 7.7e-6,1.10, 7.7e-6,-0.68, 7.8e-6,1.59, 8.0e-6,-1.04, 8.0e-6,0.43, 8.2e-6,0.57, 8.3e-6,0.12, 8.3e-6,0.73, 8.3e-6,0.16, 8.4e-6,0.36, 8.6e-6,0.50, 8.8e-6,1.12, 8.8e-6,-0.47, 9.0e-6,-0.59, 9.2e-6,0.40, 9.2e-6,0.17, 9.3e-6,0.05, 9.4e-6,-0.32, 9.5e-6,1.66, 9.5e-6,1.48, 9.5e-6,1.43, 9.5e-6,1.01, 9.5e-6,0.97, 9.7e-6,0.21, 9.7e-6,1.15, 9.8e-6,0.40, 9.8e-6,-0.27, 9.9e-6,0.35, 9.9e-6,0.06, 10.0e-6,0.85, 10.1e-6,0.96, 10.1e-6,0.28, 10.2e-6,0.15, 10.2e-6,1.01, 10.3e-6,1.44, 10.3e-6,1.41, 10.3e-6,0.38, 10.4e-6,0.90, 10.5e-6,0.06, 10.5e-6,0.29, 10.6e-6,0.84, 10.6e-6,-0.42, 10.7e-6,0.21, 10.7e-6,0.72, 10.9e-6,1.03, 10.9e-6,0.00, 11.0e-6,1.00, 11.1e-6,0.40, 11.1e-6,0.90, 11.2e-6,-0.89, 11.3e-6,0.33, 11.3e-6,0.17, 11.3e-6,-0.30, 11.5e-6,1.29, 11.6e-6,0.86, 11.6e-6,0.68, 11.6e-6,0.23, 11.7e-6,-0.22, 11.8e-6,-0.96, 11.8e-6,0.58, 11.9e-6,0.53, 11.9e-6,1.26, 12.0e-6,0.36, 12.0e-6,-0.85, 12.1e-6,-0.12, 12.2e-6,0.22, 12.3e-6,1.00, 12.4e-6,0.68, 12.5e-6,0.22, 12.6e-6,0.09, 12.7e-6,0.06, 12.9e-6,-0.78, 12.9e-6,0.26, 13.0e-6,-0.17, 13.1e-6,-0.23, 13.1e-6,-0.20, 13.3e-6,1.15, 13.3e-6,0.68, 13.6e-6,0.05, 13.6e-6,-0.68, 13.6e-6,0.95, 13.7e-6,0.78, 13.8e-6,0.48, 13.8e-6,-1.00, 14.0e-6,-0.61, 14.1e-6,-0.72, 14.3e-6,-0.75, 14.3e-6,0.99, 14.4e-6,1.05, 14.5e-6,0.31, 14.6e-6,1.01, 14.6e-6,0.04, 14.8e-6,0.00, 14.8e-6,-0.16, 14.9e-6,0.53, 15.2e-6,-0.10, 15.4e-6,-0.53, 15.7e-6,0.48, 15.7e-6,0.66, 16.0e-6,0.37, 16.4e-6,-0.41, 16.4e-6,-0.60, 16.5e-6,-0.79, 16.6e-6,-0.42, 16.7e-6,-0.18, 16.8e-6,-0.27, 16.8e-6,-0.31, 16.5e-6,1.23, 18.0e-6,-1.12, 18.2e-6,-0.94, 18.2e-6,0.56, 18.3e-6,1.01, 18.4e-6,0.33, 18.6e-6,0.81, 18.7e-6,0.96, 18.9e-6,-0.35, 19.3e-6,-0.89, 19.5e-6,-0.97, 19.8e-6,0.63, 20.2e-6,-0.11, 20.8e-6,-1.11, 20.9e-6,0.16, 21.1e-6,-1.30, 21.9e-6,-0.89, 22.7e-6,-0.22, 23.8e-6,-1.65, 25.0e-6,-0.72, 34.8e-6,-0.60]).reshape(-1, 2)

pts15 = np.array([0.4,0.47, 0.8,1.38, 1.2,1.19, 1.0,0.16, 1.0,0.04, 1.2,-0.18, 1.0,-0.44, 1.4,0.38, 1.8,0.29, 1.6,0.90, 1.9,0.50, 2.1,-0.21, 2.5,0.57, 2.7,0.90, 2.9,-0.59, 3.1,0.44, 3.3,0.36, 3.5,0.27, 3.7,0.04, 3.9,1.01, 4.1,1.68, 4.1,1.47, 4.3,-0.32, 4.5,0.68, 4.7,0.86, 4.9,1.00, 5.1,-0.13, 5.3,0.72, 5.3,0.35, 5.5,-0.17, 5.6,0.52, 5.8,0.96, 6.0,1.59, 6.0,-0.53, 6.0,0.04, 6.4,0.27, 6.4,1.24, 6.6,0.70, 6.8,0.17, 6.8,-0.60, 7.0,-1.04, 7.4,-0.05, 7.6,0.10, 7.8,1.37, 8.0,0.93, 8.2,1.26, 8.4,0.21, 8.8,-0.30, 9.2,0.81, 9.2,0.28, 9.7,0.18, 10.1,0.44, 10.5,1.15, 10.5,1.06, 10.7,-0.25, 10.9,0.24, 11.1,1.03, 11.7,0.29, 11.9,-1.65, 12.3,1.41, 12.3,1.24, 12.7,0.24, 12.9,1.04, 13.0,0.49, 13.0,-0.68, 13.2,1.66, 13.4,1.47, 13.6,0.44, 13.6,-0.78, 14.0,-0.96, 14.2,0.95, 14.2,-0.60, 14.6,0.84, 14.8,0.29, 15.0,-0.22, 15.2,-0.27, 15.4,0.95, 15.6,0.43, 15.8,-0.86, 16.0,1.30, 16.6,0.36, 16.7,1.46, 16.9,0.64, 17.3,0.53, 17.7,0.00, 18.1,0.21, 18.5,-0.11, 19.5,-0.07, 19.9,0.48, 20.4,1.04, 21.0,0.36, 21.6,-0.35, 21.6,-0.89, 22.4,1.30, 24.0,-0.89, 24.1,0.42, 24.7,1.00, 25.9,-0.12, 27.1,-1.00, 27.5,-0.96, 27.8,0.11, 28.2,0.58, 28.8,-0.20, 29.0,-1.30, 30.2,-0.72, 30.6,1.00, 30.9,-1.07, 31.5,0.33, 32.3,0.16, 32.7,0.08, 32.9,0.36, 33.3,-1.12, 33.5,1.44, 33.3,-0.36, 33.9,1.15, 34.9,1.12, 34.5,0.54, 36.0,-0.70, 38.2,1.04, 38.4,0.68, 38.8,-0.16, 38.8,-0.24, 39.5,-0.42, 42.8,-0.42, 42.8,-0.60, 50.0,-1.12, 50.4,-0.89, 53.4,0.20, 53.4,0.15, 54.5,-0.80, 56.1,-0.77, 55.9,0.62, 58.0,-0.42, 60.6,0.36, 62.7,0.78, 64.1,-0.31, 68.5,-0.12, 71.7,0.42, 74.6,-0.22, 85.3,0.39, 91.9,-0.93, 112.2,-0.74, 117.6,0.96, 131.5,0.56, 186.0,-0.48, 186.8,-0.69]).reshape(-1, 2)

# f16: points sit in a few vertical columns (area value, harmony values)
cols16 = [
    (52920, [1.44, 1.40, 1.37, 1.30, 1.27, 1.12, 0.98, 0.90, 0.63, 0.55, 0.52, 0.45, 0.42, 0.38, 0.35, 0.30, 0.27, 0.24, 0.21, 0.10, 0.07, -0.05, -0.12, -0.15, -0.20, -0.24, -0.30, -0.33, -0.37, -0.45, -0.50, -0.55, -0.60, -0.70, -0.73, -0.78, -0.82, -0.90, -0.95, -1.02, -1.08, -1.12, -1.31]),
    (53010, [1.20, 1.00, 0.97, 0.30, 0.25, 0.20, -0.12, -0.95, -1.00]),
    (53620, [1.68, 1.60, 1.43, 1.40, 1.00, 0.85, 0.41, 0.32, 0.20, -0.43, -0.45]),
    (53680, [1.64, 1.38]),
    (53750, [1.66, 1.07, 0.95, 0.85, 0.20, -0.30, -0.68]),
    (53880, [1.64, 1.30, 1.05, 1.02, 0.85, 0.78, 0.55, 0.50, 0.47, 0.42, 0.38, 0.30, 0.25, 0.20, 0.10, 0.05, -0.20, -0.30, -0.37, -0.88]),
    (61210, [1.47]),
    (66170, [1.26, 1.15, 1.00, 0.90, 0.69, 0.52, 0.30, 0.19, -0.20, -0.27, -0.70, -1.12]),
    (66250, [1.26, 1.15, 0.11]),
    (67580, [1.00, 0.97, 0.85, 0.65, 0.53, 0.38, 0.35, 0.33, 0.16, 0.05, -0.88, -0.93]),
    (67660, [0.97, 0.15, -0.90]),
    (67840, [1.46, 1.23, 1.05, 1.02, 0.98, 0.95, 0.81, 0.72, 0.69, 0.58, 0.53, 0.48, 0.45, 0.38, 0.26, 0.16, 0.15, 0.05, -0.03, -0.08, -0.12, -0.15, -0.20, -0.24, -0.60, -1.04, -1.66]),
    (68160, [0.72, 0.16, -0.42, -0.86]),
]
pts16 = np.array([(cx, cy) for cx, ys in cols16 for cy in ys])

# linear fits as printed in each panel
intercepts = [-0.32419, 0.32427, 0.28649, -0.00356, 0.74144, 0.42081, 0.43017, 0.56148,
              0.39253, -0.97267, 0.77536, 0.06561, 0.62186, 1.01103, 0.40837, -0.30872]
slopes = [0.01387, -0.0113, -0.00243, 0.01754, -0.06562, -0.01538, -0.01722, -0.06095,
          -0.02121, 0.18114, -0.03914, 1.80909e-6, -0.02766, -61776.26369, -0.00622, 9.63323e-6]

tab_intercept = ["\u22120.32419 \u00b1 0.1", "0.32427 \u00b1 0.0", "0.28649 \u00b1 0.05", "\u22120.00356 \u00b1 0.1",
                 "0.74144 \u00b1 0.10", "0.42081 \u00b1 0.1", "0.43017 \u00b1 0.10", "0.56148 \u00b1 0.08",
                 "0.39253 \u00b1 0.09", "\u22120.97267 \u00b1 0.7", "0.77536 \u00b1 0.14", "0.06561 \u00b1 0.11048",
                 "0.62186 \u00b1 0.1", "1.01103 \u00b1 0.14681", "0.40837 \u00b1 0.06", "\u22120.30872 \u00b1 0.476"]
tab_slope = ["0.01387 \u00b1 0.00", "\u22120.0113 \u00b1 0.0", "\u22120.00243 \u00b1 0.0", "0.01754 \u00b1 0.01",
             "\u22120.06562 \u00b1 0.0", "\u22120.01538 \u00b1 0.", "\u22120.01722 \u00b1 0.0", "\u22120.06095 \u00b1 0.0",
             "\u22120.02121 \u00b1 0.0", "0.18114 \u00b1 0.10", "\u22120.03914 \u00b1 0.0", "1.80909E\u22126 \u00b1 8.74",
             "\u22120.02766 \u00b1 0.", "\u221261776.26369 \u00b1 1135", "\u22120.00622 \u00b1 0.0", "9.63323E\u22126 \u00b1 7.9"]
tab_r = ["0.3079", "\u22120.21572", "\u22120.07289", "0.13057", "\u22120.37995", "\u22120.12239", "\u22120.14005", "\u22120.32423",
         "\u22120.12852", "0.13657", "\u22120.28474", "0.16047", "\u22120.2424", "\u22120.3929", "\u22120.25256", "0.09456"]
tab_r2 = ["0.0948", "0.04653", "0.00531", "0.01705", "0.14436", "0.01498", "0.01961", "0.10512",
          "0.01652", "0.01865", "0.08108", "0.02575", "0.05876", "0.15437", "0.06378", "0.00894"]

xlabels = [r"$f_{\mathit{1}}$ (The first-order moment of $L$*)",
           r"$f_{\mathit{2}}$ (The first-order moment of $a$*)",
           r"$f_{\mathit{3}}$ (The first-order moment of $b$*)",
           r"$f_{\mathit{4}}$ (The second-order moment of $L$*)",
           r"$f_{\mathit{5}}$ (The second-order moment of $a$*)",
           r"$f_{\mathit{6}}$ (The second-order moment of $b$*)",
           r"$f_{\mathit{7}}$ (The third-order moment of $L$*)",
           r"$f_{\mathit{8}}$ (The third-order moment of $a$*)",
           r"$f_{\mathit{9}}$ (The third-order moment of $b$*)",
           r"$f_{\mathit{10}}$ (Color Richness)",
           r"$f_{\mathit{11}}$ (Space Density)",
           r"$f_{\mathit{12}}$ (Space Density)",
           r"$f_{\mathit{13}}$ (Color Tone Contrast)",
           r"$f_{\mathit{14}}$ (Lightness Contrast)",
           r"$f_{\mathit{15}}$ (Cool/warm Contrast)",
           r"$f_{\mathit{16}}$ (Area Difference)"]

points = [pts1, pts2, pts3, pts4, pts5, pts6, pts7, pts8, pts9, pts10, pts11, pts12, pts13, pts14, pts15, pts16]

# axis settings per panel: xlim, major step, minor step, tick format, table box, first column share
layout = [
    ((0, 95), 10, 5, "{:.0f}", [0.605, 0.110, 0.384, 0.158], 0.567),
    ((-30, 50), 10, 5, "{:.0f}", [0.607, 0.821, 0.379, 0.158], 0.573),
    ((-60, 80), 20, 10, "{:.0f}", [0.585, 0.047, 0.385, 0.160], 0.567),
    ((2.5, 32.5), 5, 2.5, "{:.0f}", [0.593, 0.034, 0.384, 0.161], 0.565),
    ((-2.5, 27.5), 5, 2.5, "{:.0f}", [0.598, 0.823, 0.384, 0.160], 0.569),
    ((-2.5, 37.5), 5, 2.5, "{:.0f}", [0.604, 0.816, 0.379, 0.160], 0.576),
    ((-2.5, 27.5), 5, 2.5, "{:.0f}", [0.596, 0.022, 0.384, 0.161], 0.569),
    ((-2.5, 22.5), 5, 2.5, "{:.0f}", [0.601, 0.828, 0.384, 0.160], 0.569),
    ((-2.5, 27.5), 5, 2.5, "{:.0f}", [0.607, 0.821, 0.385, 0.158], 0.567),
    ((4.5, 8.0), 0.5, 0.25, "{:.1f}", [0.012, 0.042, 0.384, 0.161], 0.567),
    ((-2.5, 35), 5, 2.5, "{:.0f}", [0.601, 0.821, 0.384, 0.158], 0.569),
    ((-50000, 500000), 100000, 50000, "{:.0f}", [0.556, 0.036, 0.433, 0.160], 0.506),
    ((-2.5, 40), 5, 2.5, "{:.0f}", [0.610, 0.818, 0.378, 0.160], 0.570),
    ((0, 3.78e-5), 5e-6, 2.5e-6, "{:.6f}", [0.528, 0.817, 0.454, 0.160], 0.481),
    ((-25, 225), 50, 25, "{:.0f}", [0.596, 0.824, 0.386, 0.159], 0.566),
    ((51000, 70000), 2000, 1000, "{:.0f}", [0.250, 0.118, 0.421, 0.162], 0.517),
]


def num_fmt(pattern):
    def f(v, pos):
        if abs(v) < 1e-12:
            v = 0.0
        return pattern.format(v).replace("-", "\u2212")
    return mticker.FuncFormatter(f)


W, H = 1559, 2521
fig = plt.figure(figsize=(W / 100, H / 100), dpi=100)

col_left = [63, 584, 1105]
row_top = [10, 432, 853, 1274, 1695, 2116]
aw, ah = 429, 344

for i in range(16):
    r, c = divmod(i, 3)
    ax = fig.add_axes([col_left[c] / W, 1 - (row_top[r] + ah) / H, aw / W, ah / H])
    xlim, major, minor, fmt, tbox, split = layout[i]
    pts = points[i]

    ax.plot(pts[:, 0], pts[:, 1], "o", color="#e8161b", ms=4.7, mec="none", zorder=3)
    xs = np.array([pts[:, 0].min(), pts[:, 0].max()])
    ax.plot(xs, intercepts[i] + slopes[i] * xs, color="black", lw=1.2, zorder=4)

    ax.set_xlim(*xlim)
    ax.set_ylim(-2.0, 2.0)
    ax.xaxis.set_major_locator(mticker.MultipleLocator(major))
    ax.xaxis.set_minor_locator(mticker.MultipleLocator(minor))
    ax.yaxis.set_major_locator(mticker.MultipleLocator(0.5))
    ax.yaxis.set_minor_locator(mticker.MultipleLocator(0.25))
    ax.xaxis.set_major_formatter(num_fmt(fmt))
    ax.yaxis.set_major_formatter(num_fmt("{:.1f}"))

    ax.set_axisbelow(True)
    ax.grid(which="major", color="#9a9a9a", linestyle=(0, (2, 2)), lw=0.8)
    ax.grid(which="minor", color="#c4c4c4", linestyle=(0, (1.5, 2)), lw=0.7)
    ax.tick_params(which="major", direction="out", length=5, width=1.0, labelsize=10.5,
                   top=False, right=False)
    ax.tick_params(which="minor", direction="out", length=3, width=0.8, top=False, right=False)
    for sp in ax.spines.values():
        sp.set_linewidth(1.2)

    ax.set_xlabel(xlabels[i], fontsize=12.5, labelpad=8)
    ax.set_ylabel("color harmony", fontsize=12.5, labelpad=4)

    rows = [["Equation", "y = a + b*x"],
            ["Intercept", tab_intercept[i]],
            ["Slope", tab_slope[i]],
            ["Pearson's r", tab_r[i]],
            ["R-Square (COD)", tab_r2[i]]]
    tbl = ax.table(cellText=rows, colWidths=[split, 1 - split], bbox=tbox,
                   cellLoc="center", zorder=6)
    tbl.auto_set_font_size(False)
    tbl.set_fontsize(8.5)
    for (rr, cc), cell in tbl.get_celld().items():
        cell.set_linewidth(0.8)
        cell.set_edgecolor("black")
        cell.set_facecolor("white")
        if cc == 0:
            cell.PAD = 0.02
            cell.get_text().set_horizontalalignment("left")

# screenshot tooltip that sits on the f2 panel in the source image
fig.text(915 / W, 1 - 359 / H, "截图(Alt + A)", fontsize=7, ha="center", va="center",
         family=["Noto Sans CJK SC", "DejaVu Sans"],
         bbox=dict(boxstyle="square,pad=0.25", fc="#f0f0f0", ec="#9a9a9a", lw=0.6))

fig.savefig("out.png", dpi=100)
